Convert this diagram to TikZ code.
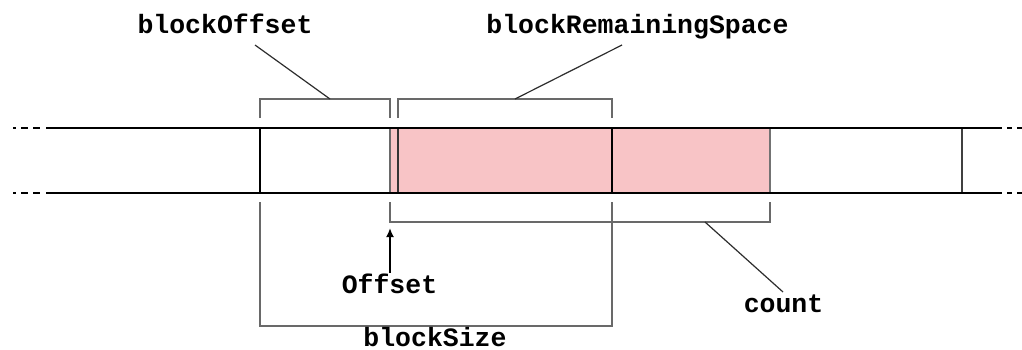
\documentclass[tikz,border=0pt]{standalone}
\usepackage{fontspec}
\setmonofont{Liberation Mono}
\usetikzlibrary{arrows.meta}
\definecolor{cellpink}{RGB}{248,196,198}
\definecolor{brk}{RGB}{105,105,105}
\definecolor{lead}{RGB}{45,45,45}
\begin{document}
\begin{tikzpicture}[x=1pt,y=-1pt,
  lbl/.style={font=\fontsize{26.5}{30}\selectfont\ttfamily\bfseries, inner sep=0pt, anchor=base},
  rail/.style={line width=2.2pt, black},
  railstub/.style={line width=2.2pt, black},
  divider/.style={line width=2pt, black},
  bracket/.style={draw=brk, line width=1.4pt},
  leader/.style={draw=lead, line width=1.2pt},
  pointer/.style={line width=2.4pt, black, -{Latex[length=9pt,width=8pt]}}
]
\useasboundingbox (0,0) rectangle (1022,349);

% highlighted cells
\fill[cellpink] (390,128) rectangle (770,193);

% cell dividers
\draw[divider] (260,128) -- (260,193);
\draw[line width=1.1pt, brk] (390,128) -- (390,193);
\draw[line width=1.7pt, black!80] (398,128) -- (398,193);
\draw[line width=2.6pt, black] (612,128) -- (612,193);
\draw[line width=1.3pt, black!55] (770,128) -- (770,193);
\draw[line width=2pt, black!75] (962,128) -- (962,193);

% rails with dotted continuations
\foreach \y in {128,193}{
  \draw[rail] (46,\y) -- (1002,\y);
  \draw[railstub] (13,\y) -- (16,\y);
  \draw[railstub] (21,\y) -- (28,\y);
  \draw[railstub] (33,\y) -- (40,\y);
  \draw[railstub] (1007,\y) -- (1012,\y);
  \draw[railstub] (1017,\y) -- (1022,\y);
}

% brackets
\draw[bracket] (260,118) -- (260,99) -- (390,99) -- (390,118);
\draw[bracket] (398,118) -- (398,99) -- (612,99) -- (612,118);
\draw[bracket] (390,202) -- (390,222) -- (770,222) -- (770,202);
\draw[bracket] (260,202) -- (260,326) -- (612,326) -- (612,202);

% bracket attachment points
\coordinate (offMid) at (330,99);
\coordinate (remMid) at (515,99);
\coordinate (cntMid) at (705,222);
\coordinate (offFoot) at (255,45);
\coordinate (remFoot) at (622,45);
\coordinate (cntFoot) at (783,292);
\coordinate (ptrTail) at (390,273);
\coordinate (ptrHead) at (390,228);

% labels
\node[lbl] (boff) at (225,33.5) {blockOffset};
\node[lbl] (brem) at (637.5,33.5) {blockRemainingSpace};
\node[lbl] (offs) at (389.5,293) {Offset};
\node[lbl] (cnt) at (783.5,312) {count};
\node[lbl] (bsz) at (435,346) {blockSize};

% leaders
\draw[leader] (offFoot) -- (offMid);
\draw[leader] (remFoot) -- (remMid);
\draw[leader] (cntMid) -- (cntFoot);

% offset pointer
\draw[pointer] (ptrTail) -- (ptrHead);
\end{tikzpicture}
\end{document}
